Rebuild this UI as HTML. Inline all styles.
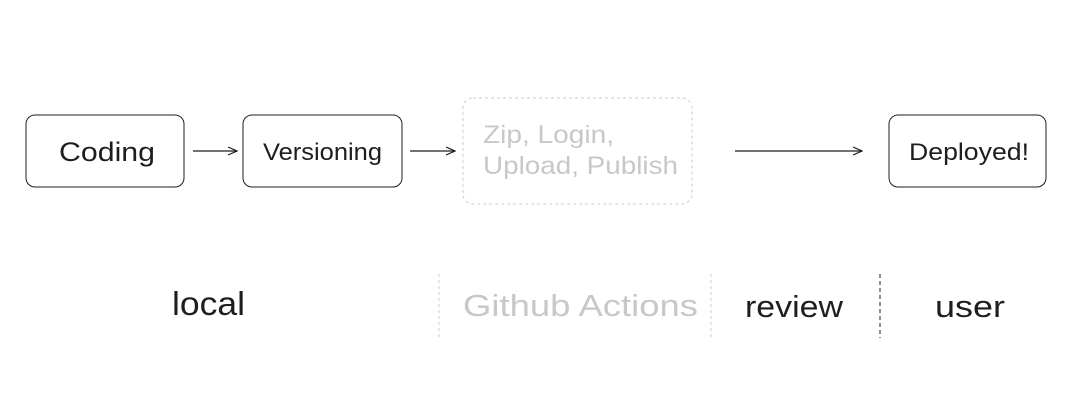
<!DOCTYPE html>
<html><head><meta charset="utf-8"><style>
html,body{margin:0;padding:0;background:#fff;width:1075px;height:405px;overflow:hidden}
text{font-family:"Liberation Sans",sans-serif}
</style></head><body>
<svg width="1075" height="405" viewBox="0 0 1075 405" xmlns="http://www.w3.org/2000/svg">
<defs><marker id="a" markerWidth="10" markerHeight="10" refX="9" refY="5" orient="auto" markerUnits="userSpaceOnUse"><path d="M0,1 L9,5 L0,9" fill="none" stroke="#1e1e1e" stroke-width="1.2"/></marker></defs>
<g fill="none" stroke="#1e1e1e" stroke-width="1">
<rect x="26" y="115" width="158" height="72" rx="9"/>
<rect x="243" y="115" width="159" height="72" rx="9"/>
<rect x="889" y="115" width="157" height="72" rx="9"/>
<line x1="193" y1="151" x2="237" y2="151" marker-end="url(#a)" stroke-width="1.3"/>
<line x1="410" y1="151" x2="455" y2="151" marker-end="url(#a)" stroke-width="1.3"/>
<line x1="735" y1="151" x2="862" y2="151" marker-end="url(#a)" stroke-width="1.3"/>
<line x1="880" y1="274" x2="880" y2="338" stroke-dasharray="4 3"/>
</g>
<g fill="none" stroke="#ccc" stroke-width="1" stroke-dasharray="3 3">
<rect x="463" y="98" width="229" height="106" rx="10"/>
<line x1="439" y1="274" x2="439" y2="338"/>
<line x1="711" y1="274" x2="711" y2="340"/>
</g>
<g fill="#1e1e1e" font-size="26" lengthAdjust="spacingAndGlyphs">
<text x="59" y="161" font-size="27" textLength="96" lengthAdjust="spacingAndGlyphs">Coding</text>
<text x="263" y="160" font-size="24" textLength="119" lengthAdjust="spacingAndGlyphs">Versioning</text>
<text x="909" y="160" font-size="24" textLength="120" lengthAdjust="spacingAndGlyphs">Deployed!</text>
<text x="172" y="315" font-size="33" textLength="73" lengthAdjust="spacingAndGlyphs">local</text>
<text x="745" y="317" font-size="31" textLength="98" lengthAdjust="spacingAndGlyphs">review</text>
<text x="935" y="317" font-size="31" textLength="70" lengthAdjust="spacingAndGlyphs">user</text>
</g>
<g fill="#c8c8c8">
<text x="483" y="143" font-size="25" textLength="131" lengthAdjust="spacingAndGlyphs">Zip, Login,</text>
<text x="483" y="174" font-size="25" textLength="195" lengthAdjust="spacingAndGlyphs">Upload, Publish</text>
<text x="463" y="316" font-size="31" textLength="235" lengthAdjust="spacingAndGlyphs">Github Actions</text>
</g>
</svg>
</body></html>
